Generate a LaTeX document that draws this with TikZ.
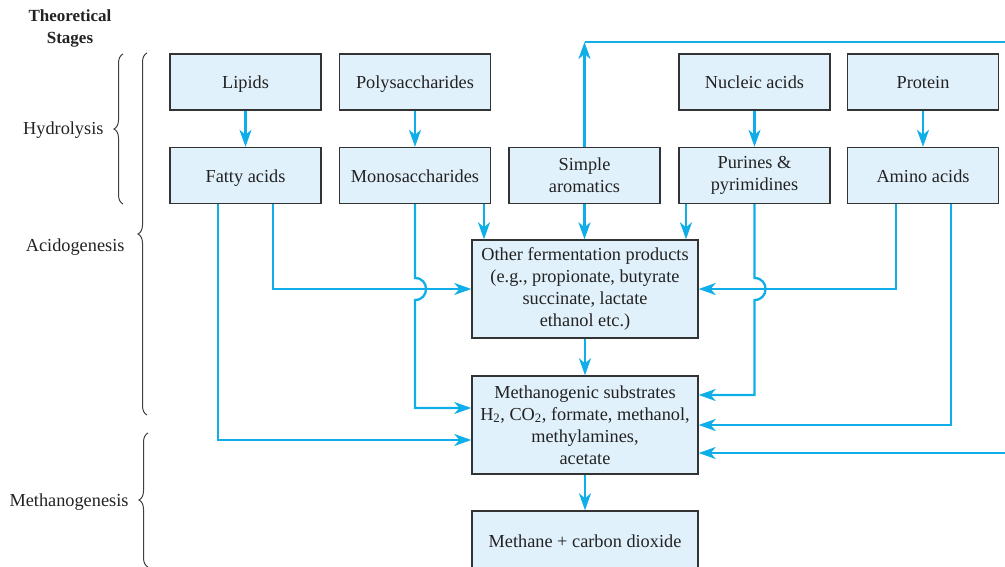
\documentclass[tikz,border=0pt]{standalone}
\usepackage{fontspec}
\setmainfont{Liberation Serif}
\usetikzlibrary{arrows.meta,decorations.pathreplacing,calc}
\definecolor{flow}{HTML}{0FAEE8}
\definecolor{boxfill}{HTML}{E1F1FB}
\definecolor{boxline}{HTML}{333333}
\definecolor{ink}{HTML}{222222}
\begin{document}
\begin{tikzpicture}[x=1pt,y=-1pt,
  stage/.style={draw=boxline,line width=1.4pt,fill=boxfill,text=ink,
    minimum width=151pt,minimum height=56pt,inner sep=0pt,align=center,
    font=\fontsize{18.3}{22}\selectfont},
  oneline/.style={text height=13.5pt,text depth=0pt},
  wide/.style={stage,minimum width=226pt,minimum height=98pt},
  flowline/.style={draw=flow,line width=2.3pt},
  arr/.style={flowline,-{Stealth[length=17pt,width=12pt,inset=5pt]}},
  brc/.style={draw=black!75,line width=1pt,decorate,decoration={brace,amplitude=9pt}},
  lbl/.style={anchor=east,text=ink,font=\fontsize{18.3}{22}\selectfont}]
\clip (0,0) rectangle (1005,567);
\useasboundingbox (0,0) rectangle (1005,567);

% stage headings
\node[text=ink,align=center,font=\bfseries\fontsize{17}{22}\selectfont] (title) at (70,28) {Theoretical\\Stages};
\node[lbl] (hyd) at (107,130) {Hydrolysis};
\node[lbl] (acid) at (128,247) {Acidogenesis};
\node[lbl] (methg) at (132,502) {Methanogenesis};
\draw[brc] (123,204) -- (123,54);
\draw[brc] (147,415) -- (147,53);
\draw[brc] (148,567) -- (148,433);

% polymers
\node[stage,oneline] (lipids) at (245.5,82) {Lipids};
\node[stage,oneline] (poly) at (415,82) {Polysaccharides};
\node[stage,oneline] (nucleic) at (754.5,82) {Nucleic acids};
\node[stage,oneline] (protein) at (923,82) {Protein};

% monomers
\node[stage,oneline] (fatty) at (245.5,175.5) {Fatty acids};
\node[stage,oneline] (mono) at (415,175.5) {Monosaccharides};
\node[stage] (arom) at (584.5,175.5) {Simple\\aromatics};
\node[stage] (pur) at (754.5,175.5) {Purines \&\\pyrimidines};
\node[stage,oneline] (amino) at (923,175.5) {Amino acids};

% intermediates and products
\node[wide] (ferm) at (585,289) {Other fermentation products\\(e.g., propionate, butyrate\\succinate, lactate\\ethanol etc.)};
\node[wide] (methsub) at (585,425) {Methanogenic substrates\\H\textsubscript{2}, CO\textsubscript{2}, formate, methanol,\\methylamines,\\acetate};
\node[wide,minimum height=66pt] (methane) at (585,544) {};
\node[text=ink,font=\fontsize{18.3}{22}\selectfont] (methanetxt) at (585,541) {Methane + carbon dioxide};

% hydrolysis
\draw[arr] (lipids) -- (fatty);
\draw[arr] (poly) -- (mono);
\draw[arr] (nucleic) -- (pur);
\draw[arr] (protein) -- (amino);

% aromatics loop around the right side
\coordinate (loopTop) at (584.5,42);
\coordinate (loopEdge) at (1010,42);
\coordinate (returnEdge) at (1010,453);
\draw[arr] (arom.north) -- (loopTop);
\draw[flowline] (loopTop) -- (loopEdge);
\draw[arr] (returnEdge) -- (returnEdge -| methsub.east);

% into the fermentation products
\draw[arr] ([xshift=69pt]mono.south) -- ([xshift=69pt]mono.south |- ferm.north);
\draw[arr] (arom.south) -- (arom.south |- ferm.north);
\draw[arr] ([xshift=-68.5pt]pur.south) -- ([xshift=-68.5pt]pur.south |- ferm.north);
\draw[arr] ([xshift=27.5pt]fatty.south) |- (ferm.west);
\draw[arr] ([xshift=-27pt]amino.south) |- (ferm.east);

% into the methanogenic substrates
\draw[arr] ([xshift=-27.5pt]fatty.south) |- ([yshift=-15pt]methsub.west);
\draw[arr] (mono.south) -- (415,278) .. controls (429.7,278) and (429.7,300) .. (415,300)
  |- ([yshift=17pt]methsub.west);
\draw[arr] (pur.south) -- (754.5,278) .. controls (769.2,278) and (769.2,300) .. (754.5,300)
  |- ([yshift=30pt]methsub.east);
\draw[arr] ([xshift=28pt]amino.south) |- (methsub.east);
\draw[arr] (ferm) -- (methsub);
\draw[arr] (methsub) -- (methane);
\end{tikzpicture}
\end{document}
